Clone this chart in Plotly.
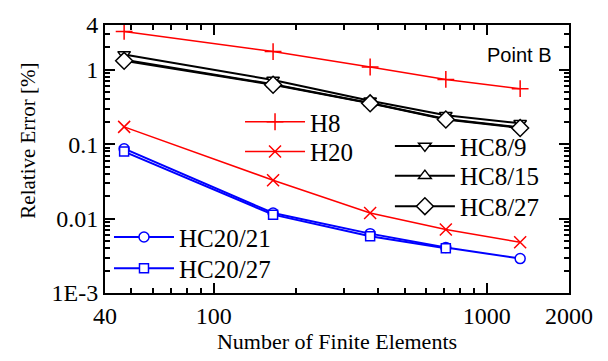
import plotly.graph_objects as go

# ---- data ----
elements = [47, 165, 374, 708, 1325]
h8 = [3.28, 1.76, 1.09, 0.743, 0.557]
h20 = [0.171, 0.0328, 0.0119, 0.00715, 0.0048]
hc8_9 = [1.61, 0.728, 0.383, 0.245, 0.191]
hc8_15 = [1.36, 0.64, 0.358, 0.218, 0.168]
hc8_27 = [1.32, 0.63, 0.354, 0.215, 0.165]
hc20_21 = [0.087, 0.0119, 0.00628, 0.0041, 0.0029]
hc20_27 = [0.0796, 0.0113, 0.0058, 0.0040]

x_ticks = [40, 100, 1000, 2000]
x_ticktext = ["40", "100", "1000", "2000"]
y_ticks = [0.001, 0.01, 0.1, 1, 4]
y_ticktext = ["1E-3", "0.01", "0.1", "1", "4"]

FONT = "'Liberation Serif', 'Times New Roman', 'DejaVu Serif', serif"
RED = "#ff0000"
BLUE = "#0000ff"
BLACK = "#000000"

fig = go.Figure()

def add(name, y, color, symbol, size, legend, fill="white", lw=1.5, mlw=1.5):
    xs = elements[:len(y)]
    fig.add_trace(go.Scatter(
        x=xs, y=y, name=name, mode="lines+markers",
        line=dict(color=color, width=lw),
        marker=dict(symbol=symbol, size=size, color=fill,
                    line=dict(color=color, width=mlw)),
        legend=legend,
    ))

add("H8", h8, RED, "cross-thin", 12, "legend", fill=RED, lw=1.5, mlw=1.5)
add("H20", h20, RED, "x-thin", 12, "legend2", fill=RED, lw=1.5, mlw=1.5)
add("HC8/9", hc8_9, BLACK, "triangle-down", 11, "legend3", lw=2)
add("HC8/15", hc8_15, BLACK, "triangle-up", 11, "legend4", lw=2)
add("HC8/27", hc8_27, BLACK, "diamond", 13, "legend5", lw=2)
add("HC20/21", hc20_21, BLUE, "circle", 10, "legend6", lw=2)
add("HC20/27", hc20_27, BLUE, "square", 9, "legend7", lw=2)

leg_common = dict(font=dict(family=FONT, size=25, color="black"),
                  bgcolor="rgba(0,0,0,0)", itemwidth=60,
                  xanchor="left", yanchor="middle", tracegroupgap=0)

fig.update_layout(
    width=608, height=361,
    margin=dict(l=105, r=39, t=19, b=63),
    paper_bgcolor="white", plot_bgcolor="white",
    legend=dict(x=0.291, y=0.638, **leg_common),
    legend2=dict(x=0.291, y=0.527, **leg_common),
    legend3=dict(x=0.614, y=0.548, **leg_common),
    legend4=dict(x=0.614, y=0.437, **leg_common),
    legend5=dict(x=0.614, y=0.323, **leg_common),
    legend6=dict(x=0.0086, y=0.208, **leg_common),
    legend7=dict(x=0.0086, y=0.091, **leg_common),
    showlegend=True,
)

axis_common = dict(
    type="log", showgrid=False, zeroline=False,
    showline=True, linecolor="black", linewidth=2, mirror="ticks",
    ticks="inside", ticklen=10, tickwidth=2, tickcolor="black",
    tickfont=dict(family=FONT, size=24, color="black"),
)

fig.update_xaxes(
    range=[1.60206, 3.30103], tickmode="array",
    tickvals=x_ticks, ticktext=x_ticktext,
    minor=dict(tickmode="array",
               tickvals=[50, 60, 70, 80, 90, 200, 300, 400, 500, 600, 700, 800, 900],
               ticks="inside", ticklen=5, tickwidth=1.5, tickcolor="black"),
    title=dict(text="Number of Finite Elements", font=dict(family=FONT, size=22, color="black"),
               standoff=5),
    **axis_common,
)

yminor = []
for d in [0.001, 0.01, 0.1, 1]:
    for k in range(2, 10):
        v = d * k
        if v < 4:
            yminor.append(v)
fig.update_yaxes(
    range=[-3, 0.60206], tickmode="array",
    tickvals=y_ticks, ticktext=y_ticktext,
    minor=dict(tickmode="array", tickvals=yminor,
               ticks="inside", ticklen=5, tickwidth=1.5, tickcolor="black"),
    **axis_common,
)

fig.add_annotation(
    text="Relative Error [%]", textangle=-90, showarrow=False,
    xref="paper", yref="paper", x=-0.165, y=0.57, xanchor="center", yanchor="middle",
    font=dict(family=FONT, size=21, color="black"),
)
fig.add_annotation(
    text="Point B", showarrow=False,
    xref="paper", yref="paper", x=0.966, y=0.889, xanchor="right", yanchor="middle",
    font=dict(family="'Liberation Sans', Arial, sans-serif", size=20, color="black"),
)

fig.write_html("out.html")
